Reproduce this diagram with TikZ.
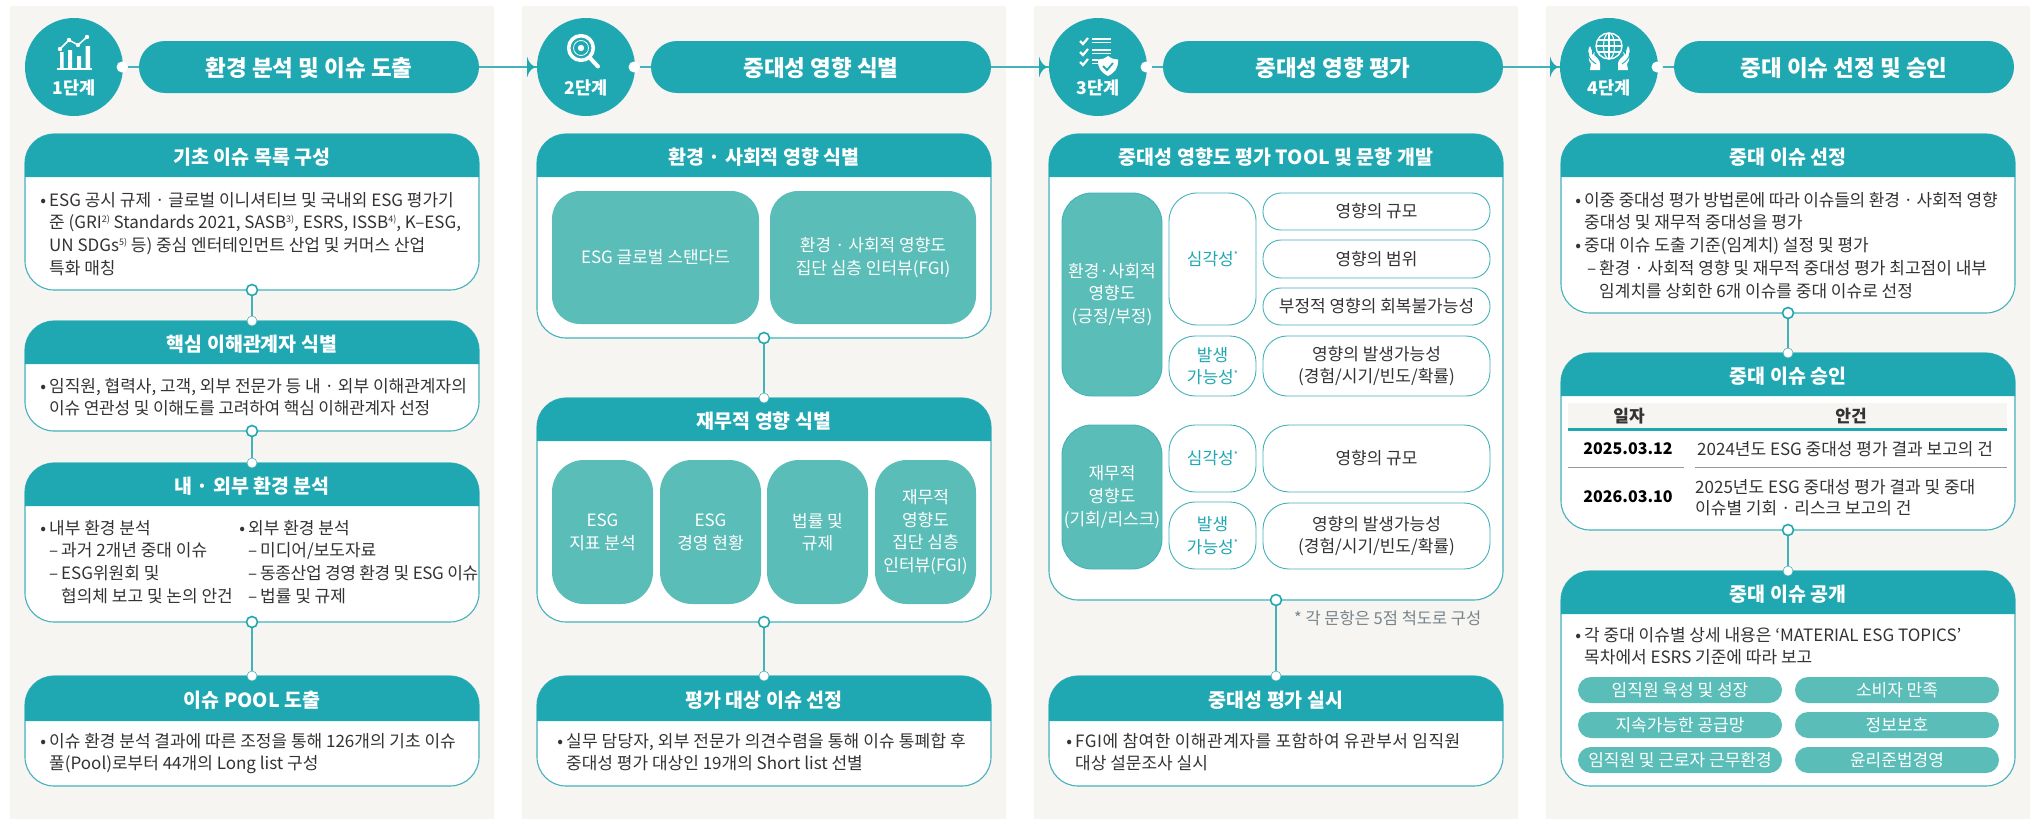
\documentclass[tikz,border=0pt]{standalone}
\usepackage{fontspec}
\setmainfont{Noto Sans CJK KR}
\definecolor{teal1}{HTML}{1FA8B2}
\definecolor{mint}{HTML}{5BBDB8}
\definecolor{panelbg}{HTML}{F6F5F1}
\definecolor{edge}{HTML}{45B2BA}
\definecolor{ink}{HTML}{333333}
\definecolor{notegray}{HTML}{76858C}
\newcommand\bodyf{\fontsize{17}{22.7}\selectfont}
\newcommand\greenf{\fontsize{17}{22.7}\selectfont}
\newcommand\Bu{\llap{\raisebox{0pt}{•}\hspace{3pt}}}
\newcommand\Da{\makebox[12pt][l]{–}}
\newcommand\In{\hspace{12pt}}
\newcommand\Sup[1]{\raisebox{6.5pt}{\fontsize{9}{9}\selectfont #1}}
\newcommand\Fs{\rule{0pt}{15pt}}
\newcommand\Trk[2]{{\addfontfeature{LetterSpace=#1}#2}}
\tikzset{
  x=1pt,y=-1pt,
  panel/.style={fill=panelbg,draw=none},
  stepdisc/.style={circle,fill=teal1,draw=none,minimum size=98pt,inner sep=0pt,outer sep=0pt},
  steppill/.style={rectangle,rounded corners=26pt,fill=teal1,draw=none,minimum height=52pt,minimum width=340pt,inner sep=0pt,outer sep=0pt,text=white,font=\fontsize{22.5}{26}\selectfont\bfseries},
  pilltext/.style={text=white,inner sep=0pt,font=\fontsize{22.5}{26}\selectfont\bfseries},
  steplabel/.style={text=white,inner sep=0pt,font=\fontsize{17.5}{20}\selectfont\bfseries},
  card/.style={rectangle,rounded corners=29pt,fill=white,draw=edge,line width=1.1pt,inner sep=0pt,outer sep=0pt},
  headfill/.style={fill=teal1,draw=none},
  cardtitle/.style={text=white,inner sep=0pt,yshift=-2pt,font=\fontsize{19.5}{23}\selectfont\bfseries},
  bodyblock/.style={anchor=north west,inner sep=0pt,align=left,text=ink,font=\bodyf},
  mintbox/.style={rectangle,fill=mint,draw=none,inner sep=0pt,text=white,align=center,font=\greenf},
  mintedge/.style={rectangle,fill=mint,draw=edge,line width=0.9pt,rounded corners=30pt,inner sep=0pt,text=white,align=center,font=\greenf},
  whitebox/.style={rectangle,fill=white,draw=edge,line width=0.9pt,inner sep=0pt,align=center,font=\greenf},
  conn/.style={draw=edge,line width=1.1pt},
  opendot/.style={circle,fill=white,draw=teal1,line width=1.6pt,minimum size=11pt,inner sep=0pt},
  tipdot/.style={circle,fill=white,draw=edge,line width=0.6pt,minimum size=10pt,inner sep=0pt},
  whitedot/.style={circle,fill=white,draw=none,minimum size=11pt,inner sep=0pt},
  tipfill/.style={fill=teal1,draw=none},
  ico/.style={draw=white,line width=2pt,line cap=round,line join=round},
  pillm/.style={rectangle,rounded corners=13pt,fill=mint,draw=none,minimum width=204pt,minimum height=26pt,inner sep=0pt,text=white,font=\greenf},
}
\newcommand\Card[7]{%
  \node[card,minimum width={(#4-#2)*1pt},minimum height={(#6-#3)*1pt}] (#1) at ({(#2+#4)/2},{(#3+#6)/2}) {};
  \fill[headfill] (#2,#5) {[rounded corners=29pt] -- (#2,#3) -- (#4,#3)} -- (#4,#5) -- cycle;
  \node[cardtitle] (#1t) at ({(#2+#4)/2},{(#3+#5)/2}) {#7};
}
\newcommand\Inner[8]{%
  \node[#1,rounded corners=#7pt,minimum width={(#5-#3)*1pt},minimum height={(#6-#4)*1pt}] (#2) at ({(#3+#5)/2},{(#4+#6)/2}) {#8};
}
\newcommand\StepHead[3]{%
  \node[stepdisc] (st#1) at (#2,67) {};
  \node[steplabel,yshift=-1pt] (stl#1) at (#2,87) {#1단계};
  \node[steppill] (hp#1) at ({#2+235},67) {};
  \node[pilltext,yshift=-1pt] (hpt#1) at (hp#1.center) {#3};
  \node[whitedot,minimum size=11pt] (hd#1) at ({#2+48},67) {};
  \draw[conn] (hd#1.east) -- (hp#1.west);
}
\newcommand\ArrowIn[2]{%
  \draw[conn] (hp#1.east) -- (st#2.west);
  \fill[tipfill,shift={(st#2.west)}] (-10,-10.5) .. controls (-8,-4) and (-5,0) .. (1,0) .. controls (-5,0) and (-8,4) .. (-10,10.5) -- cycle;
}
\newcommand\Link[3]{%
  \draw[conn] (#2) -- (#3);
  \node[opendot] (#1a) at (#2) {};
  \node[tipdot] (#1b) at (#3) {};
}
\begin{document}
\begin{tikzpicture}
\useasboundingbox (0,0) rectangle (2037,819);
\fill[panel] (10,6) rectangle (494,819);
\fill[panel] (522,6) rectangle (1006,819);
\fill[panel] (1034,6) rectangle (1518,819);
\fill[panel] (1546,6) rectangle (2030,819);

\StepHead{1}{74}{환경 분석 및 이슈 도출}
\StepHead{2}{586}{중대성 영향 식별}
\StepHead{3}{1098}{중대성 영향 평가}
\StepHead{4}{1609}{중대 이슈 선정 및 승인}
\ArrowIn{1}{2}
\ArrowIn{2}{3}
\ArrowIn{3}{4}

% icon 1
\fill[white] (57,67.5) rectangle (92,70);
\fill[white] (60,52) rectangle (63.5,68) (68,50) rectangle (72,68) (77,56) rectangle (81,68) (85.5,46) rectangle (90,68);
\draw[ico,line width=1.5pt] (60,49) -- (69,40) -- (78,45) -- (87,37);
\fill[white] (60,49) circle (2.2) (69,40) circle (2.2) (78,45) circle (2.2) (87,37) circle (2.2);
% icon 2
\draw[white,line width=3.6pt] (581,48) circle (12.3);
\draw[white,line width=0.8pt] (581,48) circle (7.5);
\fill[white] (581,48) circle (3.2);
\draw[white,line width=4pt,line cap=round] (590,58) -- (598,66.5);
% icon 3
\foreach \yy/\ll in {41/1111,52/1111,62/1098}{
  \draw[white,line width=2.2pt] (1080,\yy) -- (1083,{\yy+3}) -- (1088,{\yy-3});
  \draw[white,line width=1.2pt] (1092,{\yy-2}) -- (\ll,{\yy-2}) (1092,{\yy+1.5}) -- (\ll,{\yy+1.5});
}
\fill[white] (1108,56) .. controls (1112,59) and (1115,59.5) .. (1118,59.5) .. controls (1118.5,68) and (1115,72.5) .. (1108,76) .. controls (1101,72.5) and (1097.5,68) .. (1098,59.5) .. controls (1101,59.5) and (1104,59) .. (1108,56) -- cycle;
\draw[teal1,line width=1.8pt] (1103,66) -- (1107,70) -- (1113,63);
% icon 4
\draw[white,line width=1.4pt] (1609,46) circle (13);
\draw[white,line width=1.1pt] (1609,46) ellipse (5.5 and 13);
\draw[white,line width=1.1pt] (1596,46) -- (1622,46) (1597.5,40) -- (1620.5,40) (1597.5,52) -- (1620.5,52) (1609,33) -- (1609,59);
\foreach \sg in {1,-1}{
  \begin{scope}[shift={(1609,0)},xscale=\sg]
    \fill[white] (-19,70) -- (-9,70) -- (-9,64) .. controls (-9,59) and (-13,58) .. (-15,55) -- (-14,52) -- (-17,55) .. controls (-17,52) and (-17,49) .. (-19,46) .. controls (-22,50) and (-20,53) .. (-20,56) .. controls (-21,60) and (-19,62) .. (-18,64) -- cycle;
    \draw[teal1,line width=0.9pt] (-20.5,53) .. controls (-21,58) and (-17,61) .. (-13,64);
  \end{scope}
}

% panel 1
\Card{c11}{25}{134}{479}{177}{290}{기초 이슈 목록 구성}
\Card{c12}{25}{321}{479}{364}{431}{핵심 이해관계자 식별}
\Card{c13}{25}{463}{479}{506}{622}{내 · 외부 환경 분석}
\Card{c14}{25}{676}{479}{721}{786}{이슈 POOL 도출}
\Link{l11}{c11.south}{c12.north}
\Link{l12}{c12.south}{c13.north}
\Link{l13}{c13.south}{c14.north}
\node[bodyblock] (t11) at (49,191) {\Fs\Bu ESG 공시 규제 · 글로벌 이니셔티브 및 국내외 ESG 평가기\\
  준 (GRI\Sup{2)} Standards 2021, SASB\Sup{3)}, ESRS, ISSB\Sup{4)}, K–ESG,\\
  UN SDGs\Sup{5)} 등) 중심 엔터테인먼트 산업 및 커머스 산업\\
  특화 매칭};
\node[bodyblock] (t12) at (49,377) {\Fs\Bu 임직원, 협력사, 고객, 외부 전문가 등 내 · 외부 이해관계자의\\
  \Trk{-1.4}{이슈 연관성 및 이해도를 고려하여 핵심 이해관계자 선정}};
\node[bodyblock] (t13a) at (49,519) {\Fs\Bu 내부 환경 분석\\
  \Da 과거 2개년 중대 이슈\\
  \Da ESG위원회 및\\
  \In 협의체 보고 및 논의 안건};
\node[bodyblock] (t13b) at (248,519) {\Fs\Bu 외부 환경 분석\\
  \Da 미디어/보도자료\\
  \Da \Trk{-2.2}{동종산업 경영 환경 및 ESG 이슈}\\
  \Da 법률 및 규제};
\node[bodyblock] (t14) at (49,732) {\Fs\Bu 이슈 환경 분석 결과에 따른 조정을 통해 126개의 기초 이슈\\
  풀(Pool)로부터 44개의 Long list 구성};

% panel 2
\Card{c21}{537}{134}{991}{177}{338}{환경 · 사회적 영향 식별}
\Card{c22}{537}{398}{991}{441}{622}{재무적 영향 식별}
\Card{c23}{537}{676}{991}{721}{786}{평가 대상 이슈 선정}
\Link{l21}{c21.south}{c22.north}
\Link{l22}{c22.south}{c23.north}
\Inner{mintbox}{m21}{552}{191}{759}{324}{28}{ESG 글로벌 스탠다드}
\Inner{mintbox}{m22}{770}{191}{976}{324}{28}{환경 · 사회적 영향도\\집단 심층 인터뷰(FGI)}
\Inner{mintbox}{m23}{552}{460}{653}{604}{32}{ESG\\지표 분석}
\Inner{mintbox}{m24}{660}{460}{761}{604}{32}{ESG\\경영 현황}
\Inner{mintbox}{m25}{767}{460}{868}{604}{32}{법률 및\\규제}
\Inner{mintbox}{m26}{875}{460}{976}{604}{32}{재무적\\영향도\\집단 심층\\인터뷰(FGI)}
\node[bodyblock] (t23) at (566,732) {\Fs\Bu \Trk{1.2}{실무 담당자, 외부 전문가 의견수렴을 통해 이슈 통폐합 후}\\
  중대성 평가 대상인 19개의 Short list 선별};

% panel 3
\Card{c31}{1049}{134}{1503}{177}{600}{중대성 영향도 평가 TOOL 및 문항 개발}
\Card{c32}{1049}{676}{1503}{721}{786}{중대성 평가 실시}
\Link{l31}{c31.south}{c32.north}
\Inner{mintedge}{g31}{1062}{193}{1162}{396}{30}{환경·사회적\\영향도\\(긍정/부정)}
\Inner{mintedge}{g32}{1062}{425}{1162}{569}{30}{재무적\\영향도\\(기회/리스크)}
\Inner{whitebox,text=teal1}{w31}{1169}{193}{1256}{325}{28}{심각성\Sup{*}}
\Inner{whitebox,text=teal1}{w32}{1169}{336}{1256}{396}{26}{발생\\가능성\Sup{*}}
\Inner{whitebox,text=teal1}{w33}{1169}{425}{1256}{492}{26}{심각성\Sup{*}}
\Inner{whitebox,text=teal1}{w34}{1169}{502}{1256}{569}{26}{발생\\가능성\Sup{*}}
\Inner{whitebox,text=ink}{r31}{1263}{193}{1490}{230}{18}{영향의 규모}
\Inner{whitebox,text=ink}{r32}{1263}{240}{1490}{278}{18}{영향의 범위}
\Inner{whitebox,text=ink}{r33}{1263}{288}{1490}{325}{18}{부정적 영향의 회복불가능성}
\Inner{whitebox,text=ink}{r34}{1263}{336}{1490}{396}{24}{영향의 발생가능성\\(경험/시기/빈도/확률)}
\Inner{whitebox,text=ink}{r35}{1263}{425}{1490}{492}{26}{영향의 규모}
\Inner{whitebox,text=ink}{r36}{1263}{503}{1490}{569}{26}{영향의 발생가능성\\(경험/시기/빈도/확률)}
\node[anchor=west,inner sep=0pt,text=notegray,font=\fontsize{16.5}{20}\selectfont] (fn3) at (1294,618) {* 각 문항은 5점 척도로 구성};
\node[bodyblock] (t32) at (1075,732) {\Fs\Bu \Trk{3}{FGI에 참여한 이해관계자를 포함하여 유관부서 임직원}\\
  대상 설문조사 실시};

% panel 4
\Card{c41}{1561}{134}{2015}{177}{313}{중대 이슈 선정}
\Card{c42}{1561}{353}{2015}{396}{530}{중대 이슈 승인}
\Card{c43}{1561}{571}{2015}{614}{786}{중대 이슈 공개}
\Link{l41}{c41.south}{c42.north}
\Link{l42}{c42.south}{c43.north}
\node[bodyblock] (t41) at (1584,191) {\Fs\Bu \Trk{-1.4}{이중 중대성 평가 방법론에 따라 이슈들의 환경 · 사회적 영향}\\
  중대성 및 재무적 중대성을 평가\\
  \Bu 중대 이슈 도출 기준(임계치) 설정 및 평가\\
  \hspace{3pt}\Da 환경 · 사회적 영향 및 재무적 중대성 평가 최고점이 내부\\
  \hspace{3pt}\In 임계치를 상회한 6개 이슈를 중대 이슈로 선정};
\fill[panelbg] (1568,403) rectangle (2007,428);
\draw[teal1,line width=2.4pt] (1568,429.5) -- (2007,429.5);
\draw[gray!80,line width=0.7pt] (1568,467) -- (1684,467) (1695,467) -- (2007,467);
\node[inner sep=0pt,text=ink,font=\fontsize{17}{20}\selectfont\bfseries] (th1) at (1629,416) {일자};
\node[inner sep=0pt,text=ink,font=\fontsize{17}{20}\selectfont\bfseries] (th2) at (1851,416) {안건};
\node[inner sep=0pt,text=black,font=\fontsize{16}{20}\selectfont\bfseries] (td1) at (1628,449) {2025.03.12};
\node[inner sep=0pt,text=black,font=\fontsize{16}{20}\selectfont\bfseries] (td2) at (1628,497) {2026.03.10};
\node[bodyblock] (tr1) at (1697,440) {\Fs 2024년도 ESG 중대성 평가 결과 보고의 건};
\node[bodyblock,font=\fontsize{17}{21}\selectfont] (tr2) at (1695,478) {\Fs 2025년도 ESG 중대성 평가 결과 및 중대\\이슈별 기회 · 리스크 보고의 건};
\node[bodyblock] (t43) at (1584,626) {\Fs\Bu 각 중대 이슈별 상세 내용은 ‘MATERIAL ESG TOPICS’\\
  목차에서 ESRS 기준에 따라 보고};
\node[pillm] (q1) at (1680,690) {임직원 육성 및 성장};
\node[pillm] (q2) at (1897,690) {소비자 만족};
\node[pillm] (q3) at (1680,725) {지속가능한 공급망};
\node[pillm] (q4) at (1897,725) {정보보호};
\node[pillm] (q5) at (1680,760) {임직원 및 근로자 근무환경};
\node[pillm] (q6) at (1897,760) {윤리준법경영};
\end{tikzpicture}
\end{document}
